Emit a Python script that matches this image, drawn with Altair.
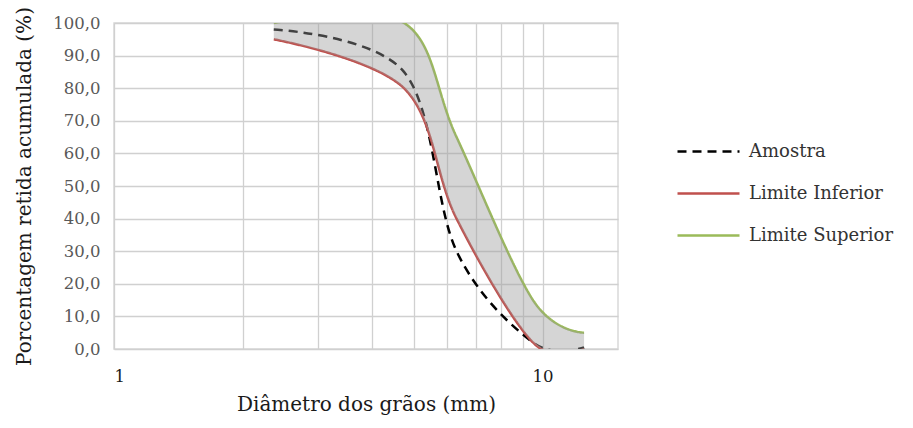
import altair as alt
import pandas as pd

# Sieve sizes (mm) and cumulative retained percentages
sizes = [2.36, 4.75, 6.3, 9.5, 12.5]
amostra = [98.0, 85.0, 30.0, 2.0, 0.5]
lim_inf = [95.0, 80.0, 40.0, 2.0, 0.0]
lim_sup = [100.0, 100.0, 65.0, 15.0, 5.0]

series_names = ["Amostra", "Limite Inferior", "Limite Superior"]
series_colors = ["#000000", "#C0504D", "#9BBB59"]
series_dash = [[9, 6], [1, 0], [1, 0]]

x_ticks = [1, 2, 3, 4, 5, 6, 7, 8, 9, 10]
y_ticks = [0, 10, 20, 30, 40, 50, 60, 70, 80, 90, 100]

rows = []
for name, vals in zip(series_names, [amostra, lim_inf, lim_sup]):
    for s, v in zip(sizes, vals):
        rows.append({"d": s, "v": v, "serie": name})
long_df = pd.DataFrame(rows)
band_df = pd.DataFrame({"d": sizes, "lo": lim_inf, "hi": lim_sup})

FONT = "DejaVu Serif"

x_scale = alt.Scale(type="log", domain=[1, 15], nice=False)
y_scale = alt.Scale(domain=[0, 100], nice=False)

x_axis = alt.Axis(
    values=x_ticks,
    labelExpr="datum.value == 1 ? '1' : (datum.value == 10 ? '10' : '')",
    title="Diâmetro dos grãos (mm)",
    labelPadding=19,
    titlePadding=10,
)
y_axis = alt.Axis(
    values=y_ticks,
    labelExpr="replace(format(datum.value, '.1f'), '.', ',')",
    title="Porcentagem retida acumulada (%)",
    labelPadding=14,
    titlePadding=18,
)

lines = alt.Chart(long_df).mark_line(
    interpolate="cardinal", strokeWidth=2.5, clip=True
).encode(
    x=alt.X("d:Q", scale=x_scale, axis=x_axis),
    y=alt.Y("v:Q", scale=y_scale, axis=y_axis),
    color=alt.Color(
        "serie:N",
        scale=alt.Scale(domain=series_names, range=series_colors),
        title=None,
        legend=alt.Legend(orient="none", legendX=562, legendY=96),
    ),
    strokeDash=alt.StrokeDash(
        "serie:N",
        scale=alt.Scale(domain=series_names, range=series_dash),
        title=None,
    ),
    detail="serie:N",
)

band = alt.Chart(band_df).mark_area(
    interpolate="cardinal", color="#9a9a9a", opacity=0.42, clip=True
).encode(
    x=alt.X("d:Q", scale=x_scale, axis=x_axis),
    y=alt.Y("lo:Q", scale=y_scale, axis=y_axis),
    y2="hi:Q",
)

chart = alt.layer(lines, band).properties(
    width=504,
    height=326,
    autosize=alt.AutoSizeParams(type="none"),
    padding={"left": 106, "top": 15, "right": 287, "bottom": 70},
).configure_view(
    stroke="#d9d9d9", strokeWidth=1.5
).configure_axis(
    grid=True,
    gridColor="#d0d0d0",
    gridWidth=1.3,
    domain=False,
    ticks=False,
    labelFont=FONT,
    titleFont=FONT,
    labelFontSize=16.5,
    titleFontSize=20,
    titleFontWeight="normal",
    labelColor="#595959",
    titleColor="#1a1a1a",
).configure_axisX(
    labelColor="#1a1a1a",
).configure_legend(
    labelFont=FONT,
    labelFontSize=18,
    labelColor="#333333",
    symbolType="stroke",
    symbolSize=3844,
    symbolStrokeWidth=2.5,
    rowPadding=0,
    labelOffset=8,
)

chart.save("out.html", embed_options={"renderer": "svg", "actions": False})
